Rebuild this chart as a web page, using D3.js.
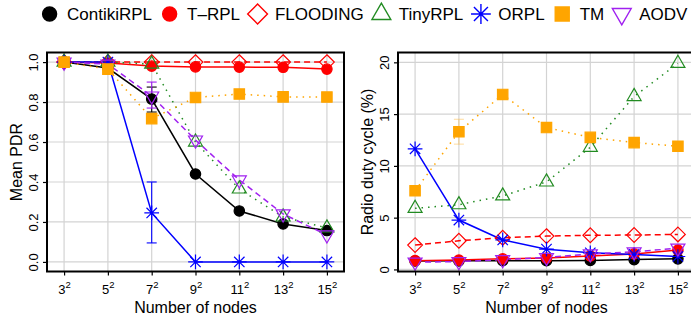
<!DOCTYPE html>
<html>
<head>
<meta charset="utf-8">
<script src="https://cdn.jsdelivr.net/npm/d3@7"></script>
<style>
  body { margin: 0; background: #fff; }
  text { font-family: "Liberation Sans", Arial, sans-serif; fill: #000; }
</style>
</head>
<body>
<div id="chart"></div>
<script>
// categories: network size n x n
const nodeBases = ["3", "5", "7", "9", "11", "13", "15"];
const protocols = ["ContikiRPL", "T\u2013RPL", "FLOODING", "TinyRPL", "ORPL", "TM", "AODV"];

// mean packet delivery ratio
const pdrContiki  = [1.0, 0.97, 0.815, 0.44, 0.255, 0.19, 0.157];
const pdrTrpl     = [1.0, 0.995, 0.98, 0.976, 0.975, 0.974, 0.965];
const pdrFlooding = [1.0, 1.0, 1.0, 1.0, 1.0, 1.0, 1.0];
const pdrTiny     = [1.0, 1.0, 0.99, 0.6, 0.365, 0.225, 0.17];
const pdrOrpl     = [1.0, 1.0, 0.245, 0.0, 0.0, 0.0, 0.0];
const pdrTm       = [1.0, 0.965, 0.717, 0.823, 0.84, 0.826, 0.825];
const pdrAodv     = [1.0, 0.99, 0.83, 0.61, 0.41, 0.24, 0.135];

// radio duty cycle (%)
const dutyContiki  = [0.82, 0.83, 0.85, 0.85, 0.87, 0.95, 1.02];
const dutyTrpl     = [0.85, 0.9, 1.02, 1.1, 1.3, 1.5, 1.87];
const dutyFlooding = [2.35, 2.77, 3.06, 3.22, 3.3, 3.32, 3.38];
const dutyTiny     = [5.9, 6.25, 7.1, 8.45, 11.8, 16.7, 19.9];
const dutyOrpl     = [11.65, 4.77, 2.85, 1.96, 1.6, 1.45, 1.25];
const dutyTm       = [7.6, 13.3, 16.9, 13.7, 12.75, 12.25, 11.9];
const dutyAodv     = [0.7, 0.75, 0.95, 1.15, 1.5, 1.7, 2.05];

// error bars: [protocol, node base, low, high]
const pdrErrors  = [["ContikiRPL", "7", 0.75, 0.875], ["AODV", "7", 0.77, 0.9], ["ORPL", "7", 0.095, 0.40]];
const dutyErrors = [["TM", "5", 12.1, 14.5]];

const pdrTicks  = [0.0, 0.2, 0.4, 0.6, 0.8, 1.0];
const dutyTicks = [0, 5, 10, 15, 20];

// styles
const colors = ["#000000", "#ff0000", "#ff0000", "#228b22", "#0000ff", "#ffa500", "#a020f0"];
const dashes = [null, null, "6,4", "1.5,5", null, "1.5,5", "6,4"];
const shapes = ["circle", "circle", "diamond", "triangle", "asterisk", "square", "triangleDown"];
const drawOrder = [0, 1, 2, 3, 4, 6, 5];

function markerPath(shape, R) {
    if (shape === "circle") {
        return d3.symbol(d3.symbolCircle, Math.PI * R * R)();
    }
    if (shape === "square") {
        return `M${-R},${-R}h${2 * R}v${2 * R}h${-2 * R}Z`;
    }
    if (shape === "diamond") {
        const d = R * Math.SQRT2;
        return `M0,${-d}L${d},0L0,${d}L${-d},0Z`;
    }
    if (shape === "triangle" || shape === "triangleDown") {
        const r = R * 1.555, s = shape === "triangle" ? 1 : -1;
        const hw = r * 0.866;
        return `M0,${-r * s}L${hw},${r / 2 * s}L${-hw},${r / 2 * s}Z`;
    }
    // asterisk
    const p = R * Math.SQRT2;
    return `M${-R},${-R}L${R},${R}M${-R},${R}L${R},${-R}M${-p},0L${p},0M0,${-p}L0,${p}`;
}

function isFilled(shape) { return shape === "circle" || shape === "square"; }

const svg = d3.select("#chart")
    .append("svg")
    .attr("width", 691)
    .attr("height", 320);

function panel(opts) {
    const g = svg.append("g");
    const x = d3.scalePoint().domain(nodeBases).range([opts.left, opts.left + 297]).padding(0.39);
    const y = d3.scaleLinear().domain(opts.domain).range([271.5, 52.5]);

    // grid
    g.append("g").selectAll("line").data(nodeBases).enter().append("line")
        .attr("x1", d => x(d)).attr("x2", d => x(d))
        .attr("y1", 52.5).attr("y2", 271.5)
        .attr("stroke", "#d3d3d3").attr("stroke-width", 1.2);
    g.append("g").selectAll("line").data(opts.ticks).enter().append("line")
        .attr("x1", opts.left).attr("x2", opts.left + 297)
        .attr("y1", d => y(d)).attr("y2", d => y(d))
        .attr("stroke", "#d3d3d3").attr("stroke-width", 1.2);

    // y axis
    const yAxis = g.append("g")
        .attr("transform", `translate(${opts.left},0)`)
        .call(d3.axisLeft(y).tickValues(opts.ticks).tickSize(4).tickFormat(opts.fmt));
    yAxis.select(".domain").remove();
    yAxis.selectAll("line").attr("stroke-width", 1.2);
    yAxis.selectAll("text")
        .attr("transform", "rotate(-90)")
        .attr("x", 0).attr("y", -9.5).attr("dy", null)
        .attr("text-anchor", "middle")
        .attr("font-size", 13).attr("fill", "#000");

    // x axis with squared labels
    const xAxis = g.append("g")
        .attr("transform", "translate(0,271.5)")
        .call(d3.axisBottom(x).tickSize(4));
    xAxis.select(".domain").remove();
    xAxis.selectAll("line").attr("stroke-width", 1.2);
    xAxis.selectAll("text").each(function (d) {
        const t = d3.select(this).text(null)
            .attr("y", 22.5).attr("dy", null)
            .attr("font-size", 13).attr("fill", "#000").attr("text-anchor", "middle");
        t.append("tspan").text(d);
        t.append("tspan").attr("dy", -6).attr("font-size", 9.5).text("2");
    });

    // lines
    const line = d3.line().x((v, i) => x(nodeBases[i])).y(v => y(v));
    drawOrder.forEach(k => {
        g.append("path")
            .attr("d", line(opts.series[k]))
            .attr("fill", "none")
            .attr("stroke", colors[k])
            .attr("stroke-width", 1.5)
            .attr("stroke-dasharray", dashes[k]);
    });

    // error bars
    opts.errors.forEach(e => {
        const k = protocols.indexOf(e[0]);
        const cx = x(e[1]);
        const eg = g.append("g")
            .attr("stroke", colors[k]).attr("stroke-width", 1.1)
            .attr("opacity", e[0] === "TM" ? 0.35 : 1);
        eg.append("line").attr("x1", cx).attr("x2", cx).attr("y1", y(e[2])).attr("y2", y(e[3]));
        eg.append("line").attr("x1", cx - 5).attr("x2", cx + 5).attr("y1", y(e[2])).attr("y2", y(e[2]));
        eg.append("line").attr("x1", cx - 5).attr("x2", cx + 5).attr("y1", y(e[3])).attr("y2", y(e[3]));
    });

    // markers
    drawOrder.forEach(k => {
        g.append("g").selectAll("path").data(opts.series[k]).enter().append("path")
            .attr("transform", (v, i) => `translate(${x(nodeBases[i])},${y(v)})`)
            .attr("d", markerPath(shapes[k], 5.2))
            .attr("fill", isFilled(shapes[k]) ? colors[k] : "none")
            .attr("stroke", colors[k])
            .attr("stroke-width", 1.2);
    });

    // box
    g.append("rect")
        .attr("x", opts.left).attr("y", 52.5)
        .attr("width", 297).attr("height", 219)
        .attr("fill", "none").attr("stroke", "#000").attr("stroke-width", 2);

    // titles
    g.append("text")
        .attr("x", opts.left + 148.5).attr("y", 313)
        .attr("text-anchor", "middle").attr("font-size", 16)
        .text("Number of nodes");
    g.append("text")
        .attr("transform", `translate(${opts.left - 25.5},162) rotate(-90)`)
        .attr("text-anchor", "middle").attr("font-size", 16)
        .text(opts.title);
}

panel({
    left: 47,
    domain: [-0.048, 1.048],
    ticks: pdrTicks,
    fmt: d3.format(".1f"),
    series: [pdrContiki, pdrTrpl, pdrFlooding, pdrTiny, pdrOrpl, pdrTm, pdrAodv],
    errors: pdrErrors,
    title: "Mean PDR"
});

panel({
    left: 398,
    domain: [-0.2, 20.95],
    ticks: dutyTicks,
    fmt: d3.format("d"),
    series: [dutyContiki, dutyTrpl, dutyFlooding, dutyTiny, dutyOrpl, dutyTm, dutyAodv],
    errors: dutyErrors,
    title: "Radio duty cycle (%)"
});

// legend
const legend = svg.append("g");
let lx = 49.6;
protocols.forEach((name, k) => {
    legend.append("path")
        .attr("transform", `translate(${lx},14)`)
        .attr("d", markerPath(shapes[k], 7))
        .attr("fill", isFilled(shapes[k]) ? colors[k] : "none")
        .attr("stroke", colors[k])
        .attr("stroke-width", 1.4);
    const t = legend.append("text")
        .attr("x", lx + 17.4).attr("y", 20)
        .attr("font-size", 17)
        .text(name);
    lx = lx + 17.4 + t.node().getComputedTextLength() + 17.6;
});
</script>
</body>
</html>
